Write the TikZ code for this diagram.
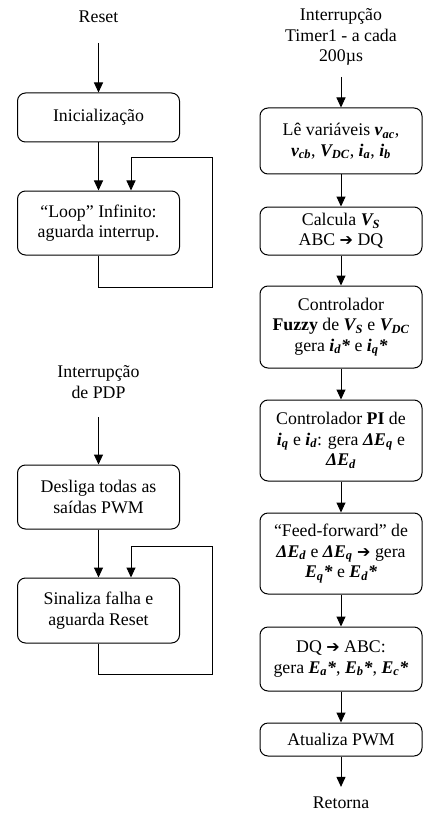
\documentclass[tikz,border=0pt]{standalone}
\usepackage{fontspec}
\setmainfont{Liberation Serif}
\newfontfamily\arrowfont{DejaVu Sans}
\usepackage{tikz}
\usetikzlibrary{arrows.meta, positioning}

\newcommand{\bvar}[2]{\textbf{\textit{#1\textsubscript{#2}}}}
\newcommand{\harrow}{{\arrowfont\fontsize{16}{16}\selectfont ➔}}

\tikzset{
  box/.style={draw, line width=1pt, rounded corners=8pt, minimum width=162pt,
    inner sep=2pt, align=center},
  label/.style={inner sep=0pt, align=center},
  flow/.style={line width=1pt, -{Triangle[length=10pt,width=9pt]}},
}

\begin{document}
\begin{tikzpicture}[x=1pt, y=-1pt, font=\fontsize{17.8}{20.5}\selectfont]
	\useasboundingbox (0,0) rectangle (423,813);
	
	% reset branch
	\node [label] (reset) at (98.5,17) {Reset};
	\node [box, minimum height=49pt] (ini) at (98.5,117.5) {Inicialização};
	\node [box, minimum height=64pt] (loop) at (98.5,223) {“Loop” Infinito:\\aguarda interrup.};
	\draw [flow] (reset) ++(0,26) -- (ini);
	\draw [flow] (ini) -- (loop);
	\draw [flow] (loop.south) -- ++(0,32) -| (212,158) -| ([xshift=32.5pt]loop.north);
	
	% PDP branch
	\node [label] (pdp) at (98.5,382) {Interrupção\\de PDP};
	\node [box, minimum height=64pt] (desliga) at (98.5,497) {Desliga todas as\\saídas PWM};
	\node [box, minimum height=65pt] (falha) at (98.5,610.5) {Sinaliza falha e\\aguarda Reset};
	\draw [flow] (pdp) ++(0,35) -- (desliga);
	\draw [flow] (desliga) -- (falha);
	\draw [flow] (falha.south) -- ++(0,31) -| (212,546) -| ([xshift=32.5pt]falha.north);
	
	% timer branch
	\node [label] (timer) at (341,37) {Interrupção\\Timer1 - a cada\\200µs};
	\node [box, minimum height=66pt] (leitura) at (341,141)
		{Lê variáveis \bvar{v}{ac},\\\bvar{v}{cb}, \bvar{V}{DC}, \bvar{i}{a}, \bvar{i}{b}};
	\node [box, minimum height=48pt] (calcula) at (341,231)
		{Calcula \bvar{V}{S}\\ABC \harrow{} DQ};
	\node [box, minimum height=82pt] (fuzzy) at (341,327)
		{Controlador\\\textbf{Fuzzy} de \bvar{V}{S} e \bvar{V}{DC}\\gera \bvar{i}{d}\textbf{\textit{*}} e \bvar{i}{q}\textbf{\textit{*}}};
	\node [box, minimum height=81pt] (pi) at (341,440.5)
		{Controlador \textbf{PI} de\\\bvar{i}{q} e \bvar{i}{d}: gera \bvar{ΔE}{q} e\\\bvar{ΔE}{d}};
	\node [box, minimum height=81pt] (ff) at (341,553.5)
		{“Feed-forward” de\\\bvar{ΔE}{d} e \bvar{ΔE}{q} \harrow{} gera\\\bvar{E}{q}\textbf{\textit{*}} e \bvar{E}{d}\textbf{\textit{*}}};
	\node [box, minimum height=64pt] (dq) at (341,659)
		{DQ \harrow{} ABC:\\gera \bvar{E}{a}\textbf{\textit{*}}, \bvar{E}{b}\textbf{\textit{*}}, \bvar{E}{c}\textbf{\textit{*}}};
	\node [box, minimum height=33pt] (pwm) at (341,739.5) {Atualiza PWM};
	\node [label] (retorna) at (341,803) {Retorna};
	
	\draw [flow] (timer) ++(0,40) -- (leitura);
	\draw [flow] (leitura) -- (calcula);
	\draw [flow] (calcula) -- (fuzzy);
	\draw [flow] (fuzzy) -- (pi);
	\draw [flow] (pi) -- (ff);
	\draw [flow] (ff) -- (dq);
	\draw [flow] (dq) -- (pwm);
	\draw [flow, shorten >=10pt] (pwm) -- (retorna);
\end{tikzpicture}
\end{document}
